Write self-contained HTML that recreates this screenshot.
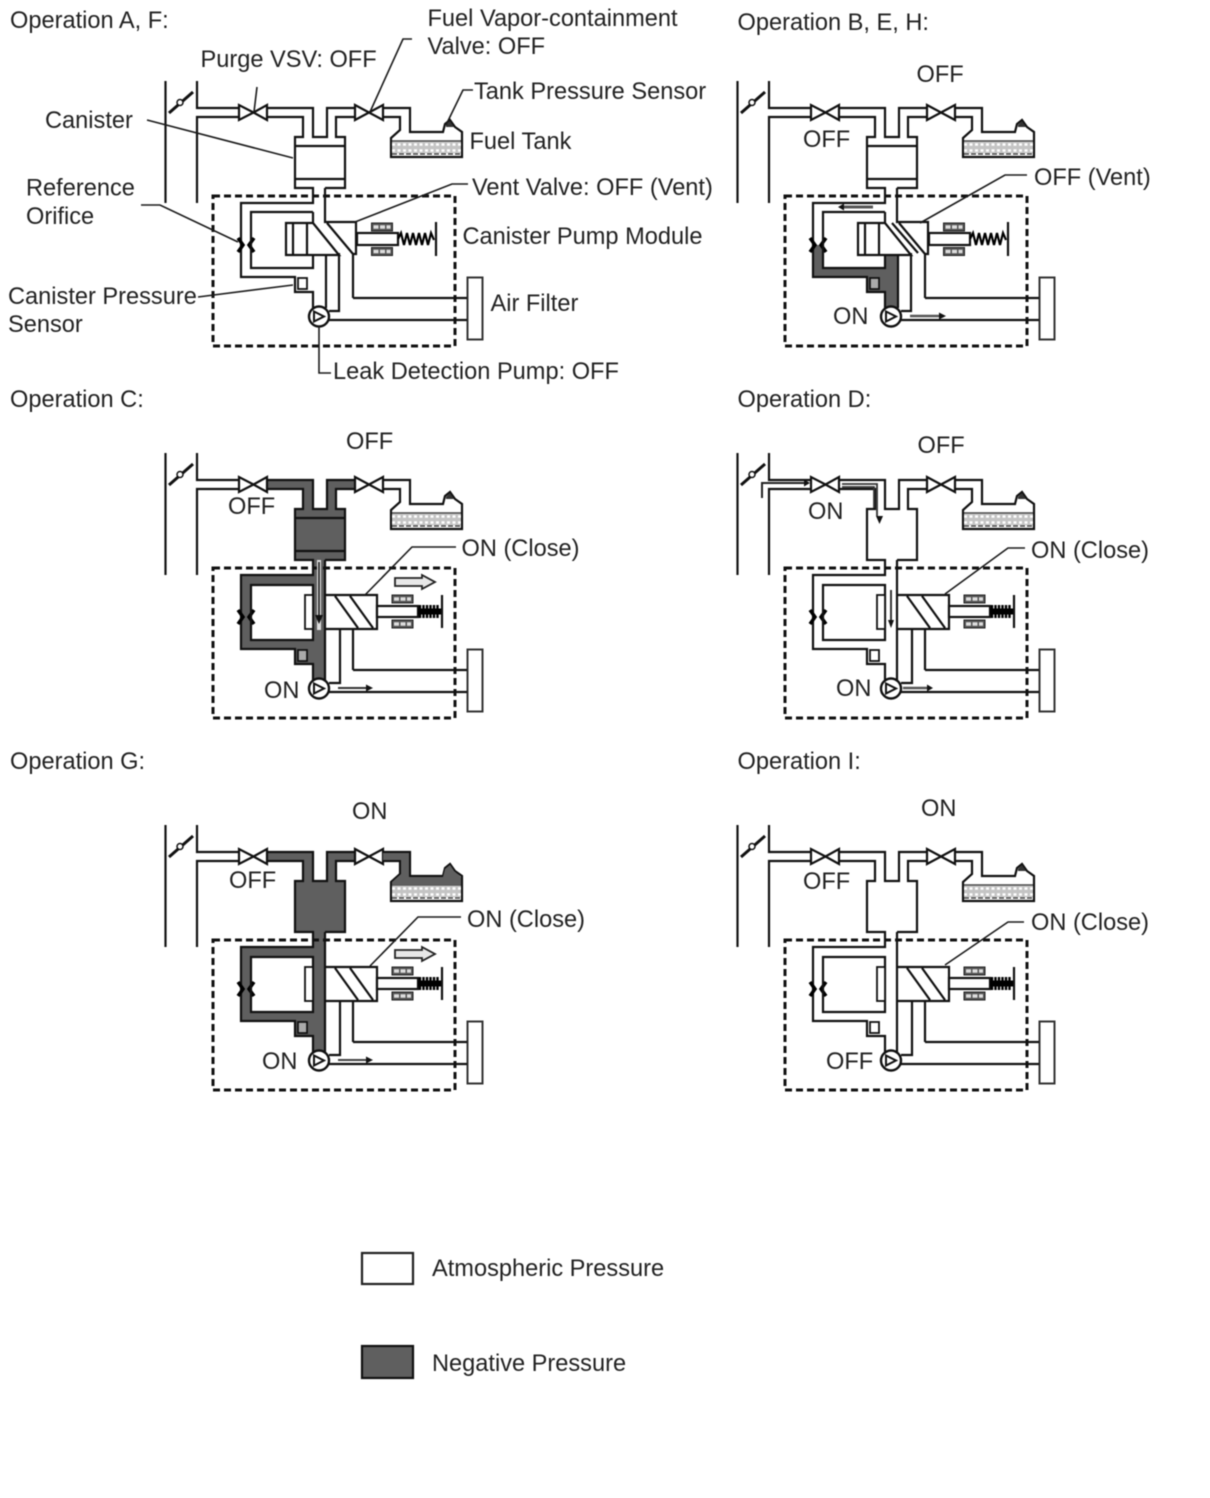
<!DOCTYPE html>
<html><head><meta charset="utf-8"><style>
html,body{margin:0;padding:0;background:#fff;width:1210px;height:1498px;overflow:hidden}
svg{display:block;filter:blur(0.45px)}
text{font-family:"Liberation Sans",sans-serif;font-size:23.6px;fill:#222}
.l{fill:none;stroke:#111;stroke-width:2.2}
.t{fill:none;stroke:#1a1a1a;stroke-width:1.6}
.d{fill:#5f5f5f;stroke:none}
</style></head><body>
<svg width="1210" height="1498" viewBox="0 0 1210 1498" xmlns="http://www.w3.org/2000/svg">
<defs>
<g id="common">
  <path class="l" d="M165.500,81V203M197,81V108H239M197,203V117H239M267,108H313V137H327V108H355M383,108H410V132H443L445,124L450,120L455,127L462,132V157H391V138L400,130V117H383M355,117H336V137H345V188H325M267,117H303V137H295V188H313V203H241V277H295V292H313V308"/>
  <path d="M169,113L193,92" stroke="#111" stroke-width="3" fill="none"/>
  <circle cx="180" cy="102.500" r="3" fill="#fff" stroke="#111" stroke-width="1.500"/>
  <path d="M446,125L450,121L454,127H446Z" fill="#333"/>
  <rect x="392" y="142" width="69" height="11" fill="#c4c4c4"/>
  <path d="M392,144.500H461M392,150.500H461" stroke="#fff" stroke-width="2.500" stroke-dasharray="3 2.500" fill="none"/>
  <path d="M392,141H461" stroke="#444" stroke-width="1.500"/>
  <path d="M392,154H461" stroke="#444" stroke-width="1.500" stroke-dasharray="5 2"/>
  <path class="l" d="M239,105V120L253.500,112.500L267,120V105L253.500,112.500Z" style="fill:#fff"/>
  <path class="l" d="M355,105V120L369,112.500L383,120V105L369,112.500Z" style="fill:#fff"/>
  <rect x="213" y="196" width="242" height="150" fill="none" stroke="#111" stroke-width="3" stroke-dasharray="7 4"/>
  <rect x="467.500" y="277.500" width="15" height="62" fill="#fff" stroke="#333" stroke-width="2"/>
  <path class="l" d="M353,298H467M329,320H467"/>
  <rect x="298" y="278" width="9" height="11" fill="#fff" stroke="#111" stroke-width="1.800"/>
  <path d="M238,238L243,245L238,252M254,238L249,245L254,252" fill="none" stroke="#000" stroke-width="3.500"/>
</g>
<g id="pump">
  <circle cx="319" cy="316.500" r="10" fill="#fff" stroke="#111" stroke-width="2.400"/>
  <path d="M314,311.500L324,316.500L314,321.500Z" fill="#fff" stroke="#111" stroke-width="2"/>
</g>
<g id="bear">
  <rect x="0" y="0" width="21" height="8" fill="#555" stroke="#222" stroke-width="1"/>
  <path d="M2,4H19" stroke="#ddd" stroke-width="3.500" stroke-dasharray="5 1.500"/>
</g>
<g id="open">
  <path class="l" d="M313,212V223H286V255H339L313,223M293,223V255M307,223V255M313,212H251V268H313V255M326,255V308M339,253V311H329M325,188V222H356V254H353L327,223M353,254V298"/>
  <rect x="357" y="233" width="41" height="12" fill="#fff" stroke="#111" stroke-width="2.200"/>
  <use href="#bear" x="371.500" y="223"/>
  <use href="#bear" x="371.500" y="247.500"/>
  <path d="M398,239L401,233L404,245L407,233L410,245L413,233L416,245L419,233L422,245L425,233L428,245L431,233L434,240" fill="none" stroke="#000" stroke-width="2.200"/>
  <path class="l" d="M436,222V256"/>
</g>
<g id="closed">
  <path class="l" d="M251,213H313V268H251ZM325,188V310M326,223H377V257H326M335,224L358,256M350,224L373,256M340,257V311H329M353,257V298"/>
  <rect x="305" y="223" width="8" height="34" fill="#fff" stroke="#111" stroke-width="1.800"/>
  <rect x="377" y="234" width="41" height="11" fill="#fff" stroke="#111" stroke-width="2.200"/>
  <use href="#bear" x="392" y="223"/>
  <use href="#bear" x="392" y="248"/>
  <path d="M418,239.500H441" stroke="#000" stroke-width="6"/>
  <path d="M420,233V246M423.500,233V246M427,233V246M430.500,233V246M434,233V246M437.500,233V246" stroke="#000" stroke-width="2.400"/>
  <path class="l" d="M442,223V256"/>
</g>
<path id="canLines" class="l" d="M295,146H345M295,179H345"/>
<g id="blockArrow"><path d="M395,206H422V203L435,210L422,217V214H395Z" fill="#e8e8e8" stroke="#222" stroke-width="1.800"/></g>
<rect id="grayS" x="299" y="279" width="7" height="9" fill="#aaa"/>
</defs>

<!-- Panel A -->
<use href="#common"/><use href="#open"/><use href="#canLines"/><use href="#pump"/>
<path class="t" d="M257,87L254,112M412,39H403L370,112M473,90H463L446,125M147,120L293,158M141,205H160L238,242M468,184H452L355,222M198,297L293,285M319,326V373H331"/>

<!-- Panel B -->
<g transform="translate(572,0)">
  <path class="d" d="M241,245V277H295V292H313V308H326V255H313V268H251V245Z"/>
  <use href="#common"/><use href="#open"/><use href="#canLines"/><use href="#pump"/><use href="#grayS"/>
  <path class="l" d="M320,223L346,253"/>
  <path d="M272,207H301" stroke="#555" stroke-width="3"/><path d="M272,203.500V210.500L266,207Z" fill="#111"/>
  <path d="M338,316H367" stroke="#555" stroke-width="2.500"/><path d="M367,312.500V319.500L374,316Z" fill="#111"/>
  <path class="t" d="M455,175H433L348,223"/>
</g>

<!-- Panel C -->
<g transform="translate(0,372)">
  <path class="d" d="M267,108H313V137H327V108H355V117H336V137H345V188H325V310H313V292H295V277H241V203H313V188H295V137H303V117H267Z"/>
  <rect x="251" y="213" width="62" height="55" fill="#fff"/>
  <use href="#common"/><use href="#closed"/><use href="#canLines"/><use href="#pump"/><use href="#grayS"/>
  <path d="M319,188V258" stroke="#ddd" stroke-width="4"/>
  <path d="M319,190V245" stroke="#111" stroke-width="1.500"/><path d="M315,243H323L319,252Z" fill="#111"/>
  <path d="M338,316H366" stroke="#333" stroke-width="2"/><path d="M366,312.500V319.500L373,316Z" fill="#111"/>
  <use href="#blockArrow"/>
  <path class="t" d="M365,223L412,175H456"/>
</g>

<!-- Panel D -->
<g transform="translate(572,372)">
  <use href="#common"/><use href="#closed"/><use href="#pump"/>
  <path d="M190,126V111H232" fill="none" stroke="#222" stroke-width="2"/>
  <path d="M232,107.500V114.500L238,111Z" fill="#111"/>
  <path d="M270,112H305V144M270,115H302V136" fill="none" stroke="#333" stroke-width="1.800"/>
  <path d="M304,144H311L307.500,152Z" fill="#111"/>
  <path d="M319,218V248" stroke="#222" stroke-width="1.800"/><path d="M316,248H322L319,256Z" fill="#111"/>
  <path d="M331,316H355" stroke="#555" stroke-width="2.500"/><path d="M355,312.500V319.500L361,316Z" fill="#111"/>
  <path class="t" d="M373,222L436,176H453"/>
</g>

<!-- Panel G -->
<g transform="translate(0,744)">
  <path class="d" d="M267,108H313V137H327V108H355V117H336V137H345V188H325V310H313V292H295V277H241V203H313V188H295V137H303V117H267Z"/>
  <rect x="251" y="213" width="62" height="55" fill="#fff"/>
  <use href="#common"/>
  <path class="d" d="M383,109H409V133H443L445,125L450,121L454,127L461,133V141H392V138L401,130V116H383Z"/>
  <use href="#closed"/><use href="#pump"/><use href="#grayS"/>
  <path d="M338,316H366" stroke="#444" stroke-width="2"/><path d="M366,312.500V319.500L373,316Z" fill="#111"/>
  <use href="#blockArrow"/>
  <path class="t" d="M370,222L418,173H461"/>
</g>

<!-- Panel I -->
<g transform="translate(572,744)">
  <use href="#common"/><use href="#closed"/><use href="#pump"/>
  <path class="t" d="M373,221L436,178H452"/>
</g>

<!-- Legend -->
<rect x="362" y="1253" width="51" height="31" fill="#fff" stroke="#222" stroke-width="2.200"/>
<rect x="362" y="1346" width="51" height="32" fill="#5f5f5f" stroke="#111" stroke-width="2.200"/>

<!-- Labels -->
<text x="10" y="28">Operation A, F:</text>
<text x="427.500" y="26">Fuel Vapor-containment</text>
<text x="427.500" y="54">Valve: OFF</text>
<text x="200.500" y="67">Purge VSV: OFF</text>
<text x="474" y="99">Tank Pressure Sensor</text>
<text x="45" y="128">Canister</text>
<text x="469.500" y="149">Fuel Tank</text>
<text x="26" y="195.500">Reference</text>
<text x="26" y="224">Orifice</text>
<text x="472" y="195">Vent Valve: OFF (Vent)</text>
<text x="462.500" y="244">Canister Pump Module</text>
<text x="490.500" y="311">Air Filter</text>
<text x="8" y="304">Canister Pressure</text>
<text x="8" y="332">Sensor</text>
<text x="333" y="379">Leak Detection Pump: OFF</text>
<text x="737.500" y="30">Operation B, E, H:</text>
<text x="916.500" y="82">OFF</text>
<text x="803" y="147">OFF</text>
<text x="1034" y="185">OFF (Vent)</text>
<text x="833" y="324">ON</text>
<text x="10" y="407">Operation C:</text>
<text x="346" y="449">OFF</text>
<text x="228" y="514">OFF</text>
<text x="461.500" y="556">ON (Close)</text>
<text x="264" y="698">ON</text>
<text x="737.500" y="407">Operation D:</text>
<text x="917.500" y="453">OFF</text>
<text x="808" y="519">ON</text>
<text x="1031" y="558">ON (Close)</text>
<text x="836" y="696">ON</text>
<text x="10" y="769">Operation G:</text>
<text x="352" y="819">ON</text>
<text x="229" y="888">OFF</text>
<text x="467" y="927">ON (Close)</text>
<text x="262" y="1069">ON</text>
<text x="737.500" y="769">Operation I:</text>
<text x="921" y="816">ON</text>
<text x="803" y="889">OFF</text>
<text x="1031" y="930">ON (Close)</text>
<text x="826" y="1069">OFF</text>
<text x="432" y="1276">Atmospheric Pressure</text>
<text x="432" y="1371">Negative Pressure</text>
</svg>
</body></html>
